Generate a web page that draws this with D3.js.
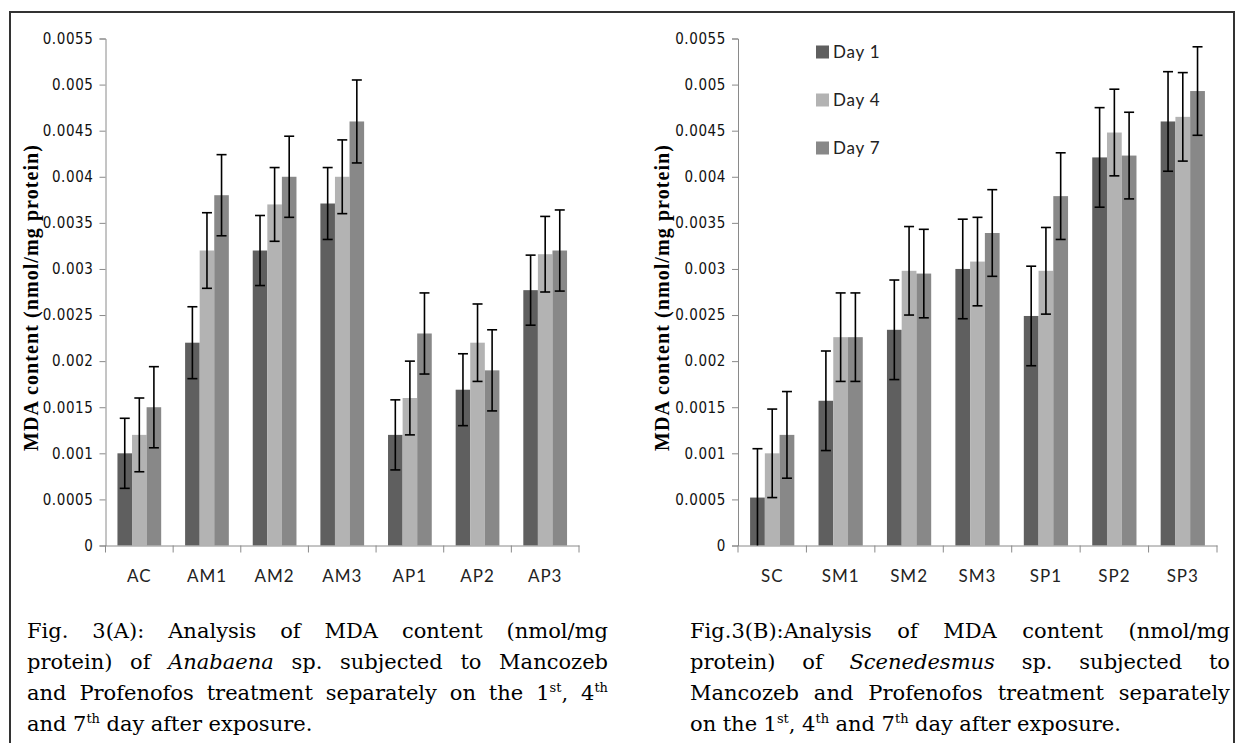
<!DOCTYPE html>
<html><head><meta charset="utf-8">
<script src="https://cdn.jsdelivr.net/npm/d3@7"></script>
<style>body{margin:0;background:#fff;overflow:hidden}</style>
</head><body><svg id="c" width="1235" height="743"></svg>
<script>
// ---------- data ----------
const seriesNames = ["Day 1", "Day 4", "Day 7"];
const seriesColors = ["#5f5f5f", "#b3b3b3", "#888888"];

const categoriesA = ["AC", "AM1", "AM2", "AM3", "AP1", "AP2", "AP3"];
const anabaenaDay1 = [0.00100, 0.00220, 0.00320, 0.00371, 0.00120, 0.00169, 0.00277];
const anabaenaDay4 = [0.00120, 0.00320, 0.00370, 0.00400, 0.00160, 0.00220, 0.00316];
const anabaenaDay7 = [0.00150, 0.00380, 0.00400, 0.00460, 0.00230, 0.00190, 0.00320];
const anabaenaErr1 = [0.00038, 0.00039, 0.00038, 0.00039, 0.00038, 0.00039, 0.00038];
const anabaenaErr4 = [0.00040, 0.00041, 0.00040, 0.00040, 0.00040, 0.00042, 0.00041];
const anabaenaErr7 = [0.00044, 0.00044, 0.00044, 0.00045, 0.00044, 0.00044, 0.00044];

const categoriesB = ["SC", "SM1", "SM2", "SM3", "SP1", "SP2", "SP3"];
const scenedesmusDay1 = [0.00052, 0.00157, 0.00234, 0.00300, 0.00249, 0.00421, 0.00460];
const scenedesmusDay4 = [0.00100, 0.00226, 0.00298, 0.00308, 0.00298, 0.00448, 0.00465];
const scenedesmusDay7 = [0.00120, 0.00226, 0.00295, 0.00339, 0.00379, 0.00423, 0.00493];
const scenedesmusErr1 = [0.00053, 0.00054, 0.00054, 0.00054, 0.00054, 0.00054, 0.00054];
const scenedesmusErr4 = [0.00048, 0.00048, 0.00048, 0.00048, 0.00047, 0.00047, 0.00048];
const scenedesmusErr7 = [0.00047, 0.00048, 0.00048, 0.00047, 0.00047, 0.00047, 0.00048];

const yTickValues = [0, 0.0005, 0.001, 0.0015, 0.002, 0.0025, 0.003, 0.0035, 0.004, 0.0045, 0.005, 0.0055];
const yTickLabels = ["0", "0.0005", "0.001", "0.0015", "0.002", "0.0025", "0.003", "0.0035", "0.004", "0.0045", "0.005", "0.0055"];
const yTitle = "MDA content (nmol/mg protein)";

// caption words: each word is a list of parts {t, it, sup}
const W = (s) => [{t: s}];
const captionA = [
  {justify: true, words: ["Fig.", "3(A):", "Analysis", "of", "MDA", "content", "(nmol/mg"].map(W)},
  {justify: true, words: [W("protein)"), W("of"), [{t: "Anabaena", it: true}], W("sp."), W("subjected"), W("to"), W("Mancozeb")]},
  {justify: true, words: [W("and"), W("Profenofos"), W("treatment"), W("separately"), W("on"), W("the"),
      [{t: "1"}, {t: "st", sup: true}, {t: ","}], [{t: "4"}, {t: "th", sup: true}]]},
  {justify: false, words: [W("and"), [{t: "7"}, {t: "th", sup: true}], W("day"), W("after"), W("exposure.")]}
];
const captionB = [
  {justify: true, words: ["Fig.3(B):Analysis", "of", "MDA", "content", "(nmol/mg"].map(W)},
  {justify: true, words: [W("protein)"), W("of"), [{t: "Scenedesmus", it: true}], W("sp."), W("subjected"), W("to")]},
  {justify: true, words: ["Mancozeb", "and", "Profenofos", "treatment", "separately"].map(W)},
  {justify: false, words: [W("on"), W("the"), [{t: "1"}, {t: "st", sup: true}, {t: ","}], [{t: "4"}, {t: "th", sup: true}],
      W("and"), [{t: "7"}, {t: "th", sup: true}], W("day"), W("after"), W("exposure.")]}
];

// ---------- drawing ----------
const svg = d3.select("#c");
svg.append("rect").attr("width", 1235).attr("height", 743).attr("fill", "#fff");

const yScale = d3.scaleLinear().domain([0, 0.0055]).range([545.5, 38.5]);

function drawChart(cfg) {
  const g = svg.append("g");
  const x0 = d3.scaleBand().domain(cfg.categories).range([cfg.left, cfg.right]).paddingInner(0).paddingOuter(0);
  const x1 = d3.scaleBand().domain(seriesNames).range([0, x0.bandwidth()]).paddingInner(0).paddingOuter(0.82);

  const rows = [];
  cfg.categories.forEach((c, i) => {
    seriesNames.forEach((s, j) => {
      rows.push({c, s, j, v: cfg.values[j][i], e: cfg.errors[j][i]});
    });
  });
  g.selectAll("rect.bar").data(rows).join("rect").attr("class", "bar")
    .attr("x", d => x0(d.c) + x1(d.s))
    .attr("width", x1.bandwidth())
    .attr("y", d => yScale(d.v))
    .attr("height", d => yScale(0) - yScale(d.v))
    .attr("fill", d => seriesColors[d.j]);

  const yAxis = d3.axisLeft(yScale).tickValues(yTickValues)
    .tickFormat((d, i) => yTickLabels[i]).tickSize(6).tickPadding(6);
  const ya = g.append("g").attr("transform", `translate(${cfg.left},0)`).call(yAxis);
  ya.select(".domain").attr("stroke", "#8a8a8a");
  ya.selectAll(".tick line").attr("stroke", "#8a8a8a");
  ya.selectAll(".tick text").attr("fill", "#111")
    .style("font-family", "'Liberation Sans Narrow','DejaVu Sans Condensed','Liberation Sans',sans-serif")
    .style("font-size", "15px").style("letter-spacing", "0.6px");

  const xAxis = d3.axisBottom(x0).tickSize(0).tickPadding(24);
  const xa = g.append("g").attr("transform", `translate(0,${yScale(0)})`).call(xAxis);
  xa.select(".domain").attr("stroke", "#8a8a8a");
  xa.selectAll(".tick text").attr("fill", "#222")
    .style("font-family", "Lato, 'Open Sans', sans-serif").style("font-size", "17px").style("letter-spacing", "1px");
  const bounds = cfg.categories.map(c => x0(c)).concat([cfg.right]);
  xa.selectAll("line.sep").data(bounds).join("line").attr("class", "sep")
    .attr("x1", d => d).attr("x2", d => d).attr("y1", 0).attr("y2", 7)
    .attr("stroke", "#8a8a8a");

  const cap = 5;
  const eg = g.append("g").attr("stroke", "#000").attr("stroke-width", 1.6);
  rows.forEach(d => {
    const cx = x0(d.c) + x1(d.s) + x1.bandwidth() / 2;
    const lo = Math.max(0, d.v - d.e), hi = d.v + d.e;
    eg.append("line").attr("x1", cx).attr("x2", cx).attr("y1", yScale(lo)).attr("y2", yScale(hi));
    eg.append("line").attr("x1", cx - cap).attr("x2", cx + cap).attr("y1", yScale(hi)).attr("y2", yScale(hi));
    if (lo > 0) eg.append("line").attr("x1", cx - cap).attr("x2", cx + cap).attr("y1", yScale(lo)).attr("y2", yScale(lo));
  });

  g.append("text")
    .attr("transform", `translate(${cfg.titleX},${298}) rotate(-90)`)
    .attr("text-anchor", "middle").attr("dy", "0.35em")
    .attr("textLength", 306).attr("lengthAdjust", "spacing")
    .style("font-family", "'Liberation Serif','Times New Roman',serif")
    .style("font-weight", "bold").style("font-size", "20px").attr("fill", "#000")
    .text(yTitle);

  if (cfg.legend) {
    const lg = g.append("g");
    seriesNames.forEach((s, j) => {
      const cy = cfg.legend.y + j * 48;
      lg.append("rect").attr("x", cfg.legend.x).attr("y", cy - 6.5).attr("width", 13).attr("height", 13)
        .attr("fill", seriesColors[j]);
      lg.append("text").attr("x", cfg.legend.x + 17).attr("y", cy).attr("dy", "0.36em")
        .style("font-family", "Lato, 'Open Sans', sans-serif").style("font-size", "17px").style("letter-spacing", "0.8px")
        .attr("fill", "#222").text(s);
    });
  }

  drawCaption(cfg.caption, cfg.capX0, cfg.capX1, [638, 669, 700, 731]);
}

function drawCaption(lines, xa, xb, baselines) {
  const g = svg.append("g")
    .style("font-family", "'DejaVu Serif','Liberation Serif',serif")
    .style("font-size", "21px").style("letter-spacing", "0px").attr("fill", "#000");
  lines.forEach((line, li) => {
    const nodes = line.words.map(parts => {
      const t = g.append("text").attr("y", baselines[li]);
      let cur = 0;
      parts.forEach(p => {
        const ts = t.append("tspan").text(p.t);
        if (p.it) ts.style("font-style", "italic");
        const target = p.sup ? -8 : 0;
        if (target !== cur) ts.attr("dy", target - cur);
        cur = target;
        if (p.sup) ts.style("font-size", "13px");
      });
      return t;
    });
    const widths = nodes.map(n => n.node().getComputedTextLength());
    const total = d3.sum(widths);
    const gap = line.justify ? (xb - xa - total) / (nodes.length - 1) : 6.5;
    let x = xa;
    nodes.forEach((n, i) => { n.attr("x", x); x += widths[i] + gap; });
  });
}

drawChart({
  categories: categoriesA, left: 105.5, right: 579,
  values: [anabaenaDay1, anabaenaDay4, anabaenaDay7],
  errors: [anabaenaErr1, anabaenaErr4, anabaenaErr7],
  titleX: 31, legend: null,
  caption: captionA, capX0: 27, capX1: 608
});
drawChart({
  categories: categoriesB, left: 738, right: 1217,
  values: [scenedesmusDay1, scenedesmusDay4, scenedesmusDay7],
  errors: [scenedesmusErr1, scenedesmusErr4, scenedesmusErr7],
  titleX: 662, legend: {x: 816, y: 52},
  caption: captionB, capX0: 690, capX1: 1230
});

svg.append("path").attr("d", "M10,760 V12 H1234 V760").attr("fill", "none")
  .attr("stroke", "#333").attr("stroke-width", 2);
</script></body></html>
